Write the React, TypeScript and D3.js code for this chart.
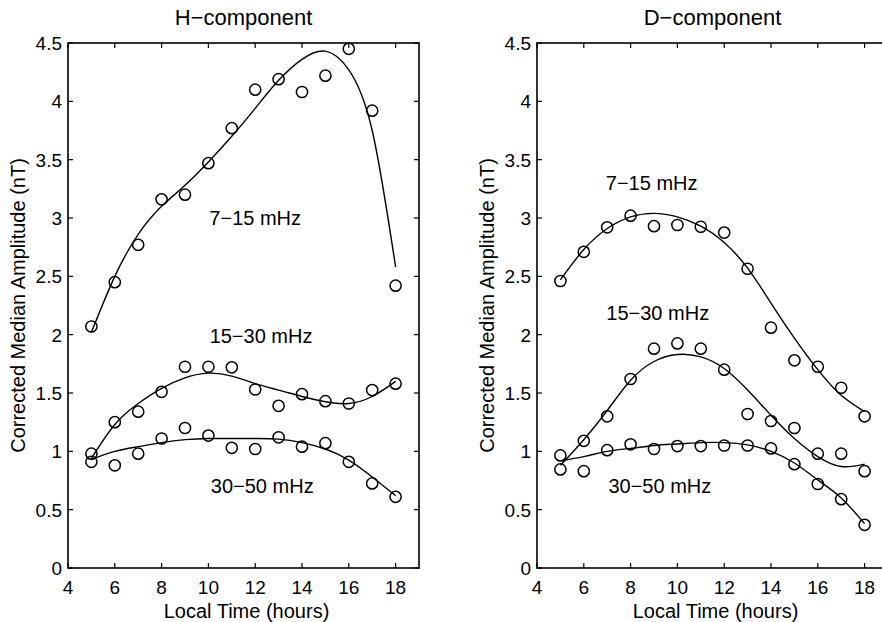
import React from "react";
import * as d3 from "d3";

const hours = [5, 6, 7, 8, 9, 10, 11, 12, 13, 14, 15, 16, 17, 18];
const xTicks = [4, 6, 8, 10, 12, 14, 16, 18];
const yTicks = [0, 0.5, 1, 1.5, 2, 2.5, 3, 3.5, 4, 4.5];
const bandNames = ["7−15 mHz", "15−30 mHz", "30−50 mHz"];

// H-component measured medians
const hLow = [2.07, 2.45, 2.77, 3.16, 3.2, 3.47, 3.77, 4.1, 4.19, 4.08, 4.22, 4.45, 3.92, 2.42];
const hMid = [0.98, 1.25, 1.34, 1.51, 1.725, 1.725, 1.72, 1.53, 1.39, 1.49, 1.43, 1.41, 1.525, 1.58];
const hHigh = [0.91, 0.88, 0.98, 1.11, 1.2, 1.135, 1.03, 1.02, 1.12, 1.04, 1.07, 0.91, 0.725, 0.61];
// H-component fitted curves
const hLowFit = [2.02, 2.5, 2.86, 3.1, 3.28, 3.48, 3.7, 3.94, 4.18, 4.36, 4.43, 4.27, 3.75, 2.58];
const hMidFit = [0.94, 1.23, 1.41, 1.54, 1.63, 1.67, 1.645, 1.58, 1.525, 1.47, 1.425, 1.41, 1.47, 1.6];
const hHighFit = [0.93, 1.0, 1.04, 1.075, 1.1, 1.11, 1.11, 1.11, 1.105, 1.075, 1.02, 0.925, 0.78, 0.62];

// D-component measured medians
const dLow = [2.46, 2.71, 2.92, 3.02, 2.93, 2.94, 2.925, 2.875, 2.565, 2.06, 1.78, 1.725, 1.545, 1.3];
const dMid = [0.965, 1.09, 1.3, 1.62, 1.88, 1.925, 1.88, 1.7, 1.32, 1.26, 1.2, 0.98, 0.98, 0.83];
const dHigh = [0.845, 0.83, 1.01, 1.06, 1.02, 1.045, 1.045, 1.05, 1.05, 1.025, 0.89, 0.72, 0.59, 0.37];
// D-component fitted curves
const dLowFit = [2.47, 2.73, 2.91, 3.01, 3.04, 3.01, 2.93, 2.79, 2.57, 2.27, 1.97, 1.7, 1.48, 1.34];
const dMidFit = [0.88, 1.1, 1.35, 1.61, 1.77, 1.83, 1.81, 1.71, 1.525, 1.31, 1.11, 0.955, 0.87, 0.89];
const dHighFit = [0.92, 0.955, 1.0, 1.025, 1.05, 1.063, 1.075, 1.075, 1.055, 1.0, 0.9, 0.755, 0.6, 0.38];

// label anchor positions (data coordinates)
const hLabelX = [12, 12.25, 12.3];
const hLabelY = [2.94, 1.93, 0.64];
const dLabelX = [8.9, 9.16, 9.25];
const dLabelY = [3.24, 2.13, 0.64];

const FONT = "'Liberation Sans', Arial, Helvetica, sans-serif";

type PanelProps = {
  title: string;
  x0: number;
  x1: number;
  obs: number[][];
  fits: number[][];
  labelX: number[];
  labelY: number[];
};

function Panel({ title, x0, x1, obs, fits, labelX, labelY }: PanelProps) {
  const top = 43;
  const bottom = 568;
  const x = d3.scaleLinear().domain([4, 19]).range([x0, x1]);
  const y = d3.scaleLinear().domain([0, 4.5]).range([bottom, top]);
  const line = d3
    .line<number>()
    .x((_, i) => x(hours[i]))
    .y((v) => y(v))
    .curve(d3.curveNatural);
  const tl = 5;
  return (
    <g>
      <text x={(x0 + x1) / 2} y={25} textAnchor="middle" fontSize={22} fontFamily={FONT}>
        {title}
      </text>
      <rect x={x0} y={top} width={x1 - x0} height={bottom - top} fill="none" stroke="#000" strokeWidth={1.6} />
      {xTicks.map((t) => (
        <g key={"x" + t}>
          <line x1={x(t)} x2={x(t)} y1={bottom} y2={bottom - tl} stroke="#000" strokeWidth={1.2} />
          <line x1={x(t)} x2={x(t)} y1={top} y2={top + tl} stroke="#000" strokeWidth={1.2} />
          <text x={x(t)} y={bottom + 26} textAnchor="middle" fontSize={19} fontFamily={FONT}>
            {t}
          </text>
        </g>
      ))}
      {yTicks.map((t) => (
        <g key={"y" + t}>
          <line x1={x0} x2={x0 + tl} y1={y(t)} y2={y(t)} stroke="#000" strokeWidth={1.2} />
          <line x1={x1} x2={x1 - tl} y1={y(t)} y2={y(t)} stroke="#000" strokeWidth={1.2} />
          <text x={x0 - 6} y={y(t) + 7} textAnchor="end" fontSize={19} fontFamily={FONT}>
            {t}
          </text>
        </g>
      ))}
      <text x={(x0 + x1) / 2 + 3} y={618} textAnchor="middle" fontSize={20} fontFamily={FONT}>
        Local Time (hours)
      </text>
      <text
        transform={`translate(${x0 - 43},${(top + bottom) / 2}) rotate(-90)`}
        textAnchor="middle"
        fontSize={20}
        fontFamily={FONT}
      >
        Corrected Median Amplitude (nT)
      </text>
      {fits.map((f, k) => (
        <path key={"f" + k} d={line(f) || ""} fill="none" stroke="#000" strokeWidth={1.4} />
      ))}
      {obs.map((s, k) =>
        s.map((v, i) => (
          <circle key={"c" + k + "-" + i} cx={x(hours[i])} cy={y(v)} r={5.6} fill="none" stroke="#000" strokeWidth={1.5} />
        ))
      )}
      {bandNames.map((n, k) => (
        <text key={"l" + k} x={x(labelX[k])} y={y(labelY[k])} textAnchor="middle" fontSize={20} fontFamily={FONT}>
          {n}
        </text>
      ))}
    </g>
  );
}

export default function App() {
  return (
    <svg
      width={882}
      height={622}
      style={{ position: "absolute", left: 0, top: 0, background: "#fff" }}
    >
      <rect width={882} height={622} fill="#fff" />
      <Panel
        title="H−component"
        x0={68}
        x1={419}
        obs={[hLow, hMid, hHigh]}
        fits={[hLowFit, hMidFit, hHighFit]}
        labelX={hLabelX}
        labelY={hLabelY}
      />
      <Panel
        title="D−component"
        x0={537}
        x1={888}
        obs={[dLow, dMid, dHigh]}
        fits={[dLowFit, dMidFit, dHighFit]}
        labelX={dLabelX}
        labelY={dLabelY}
      />
    </svg>
  );
}
